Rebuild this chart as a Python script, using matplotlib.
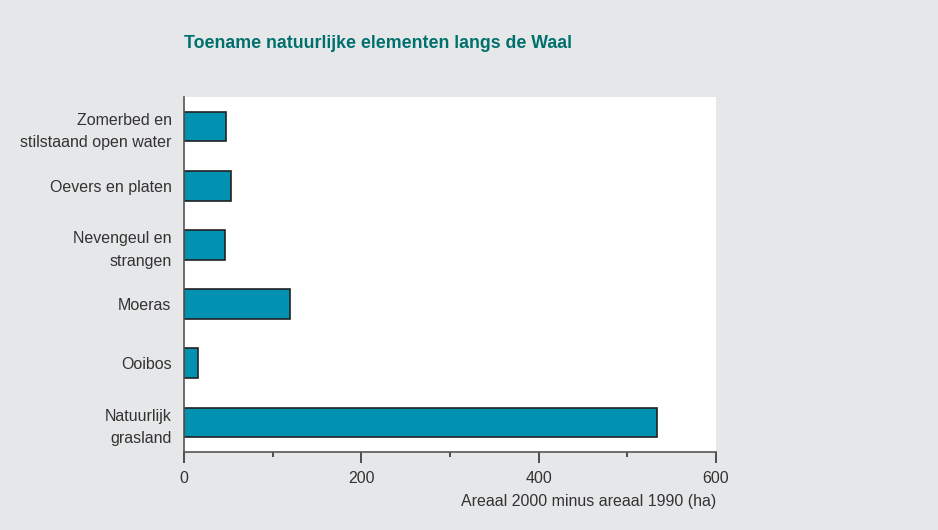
import matplotlib.pyplot as plt
from matplotlib.ticker import MultipleLocator

plt.rcParams['font.family'] = ['Liberation Sans', 'DejaVu Sans']

# Categories from top to bottom and increase in area (ha)
categories = ['Zomerbed en\nstilstaand open water', 'Oevers en platen',
              'Nevengeul en\nstrangen', 'Moeras', 'Ooibos',
              'Natuurlijk\ngrasland']
increase = [47, 53, 46, 120, 16, 534]
xticks = [0, 200, 400, 600]

bg = '#e6e7e9'
bar_color = '#0092b0'
text_color = '#333333'

fig = plt.figure(figsize=(9.38, 5.30), dpi=100, facecolor=bg)
ax = fig.add_axes([184 / 938, 78 / 530, 532 / 938, 355 / 530])
ax.set_facecolor('white')

pos = list(range(len(categories)))
ax.barh(pos, increase, height=0.5, color=bar_color, edgecolor='#222222', linewidth=1.2)

ax.set_ylim(len(categories) - 0.5, -0.5)
ax.set_xlim(0, 600)
ax.set_yticks(pos)
ax.set_yticklabels(categories, fontsize=11.5, color=text_color, linespacing=1.6)
ax.set_xticks(xticks)
ax.set_xticklabels([str(t) for t in xticks], fontsize=11.5, color=text_color)
ax.xaxis.set_minor_locator(MultipleLocator(100))

for side in ['top', 'right']:
    ax.spines[side].set_visible(False)
ax.spines['left'].set_color('#555555')
ax.spines['bottom'].set_color('#555555')
ax.spines['left'].set_linewidth(1.2)
ax.spines['bottom'].set_linewidth(1.2)

ax.tick_params(axis='y', length=0, pad=9)
ax.tick_params(axis='x', which='major', direction='out', length=8, width=1.2,
               color='#333333', pad=5.5)
ax.tick_params(axis='x', which='minor', direction='out', length=3.5, width=1.2,
               color='#333333')

ax.set_xlabel('Areaal 2000 minus areaal 1990 (ha)', fontsize=11.5,
              color=text_color, loc='right', labelpad=6)

fig.text(184 / 938, 1 - 48 / 530, 'Toename natuurlijke elementen langs de Waal',
         fontsize=12.8, fontweight='bold', color='#00706e', ha='left', va='baseline')

fig.savefig('out.png', dpi=100, facecolor=bg)
